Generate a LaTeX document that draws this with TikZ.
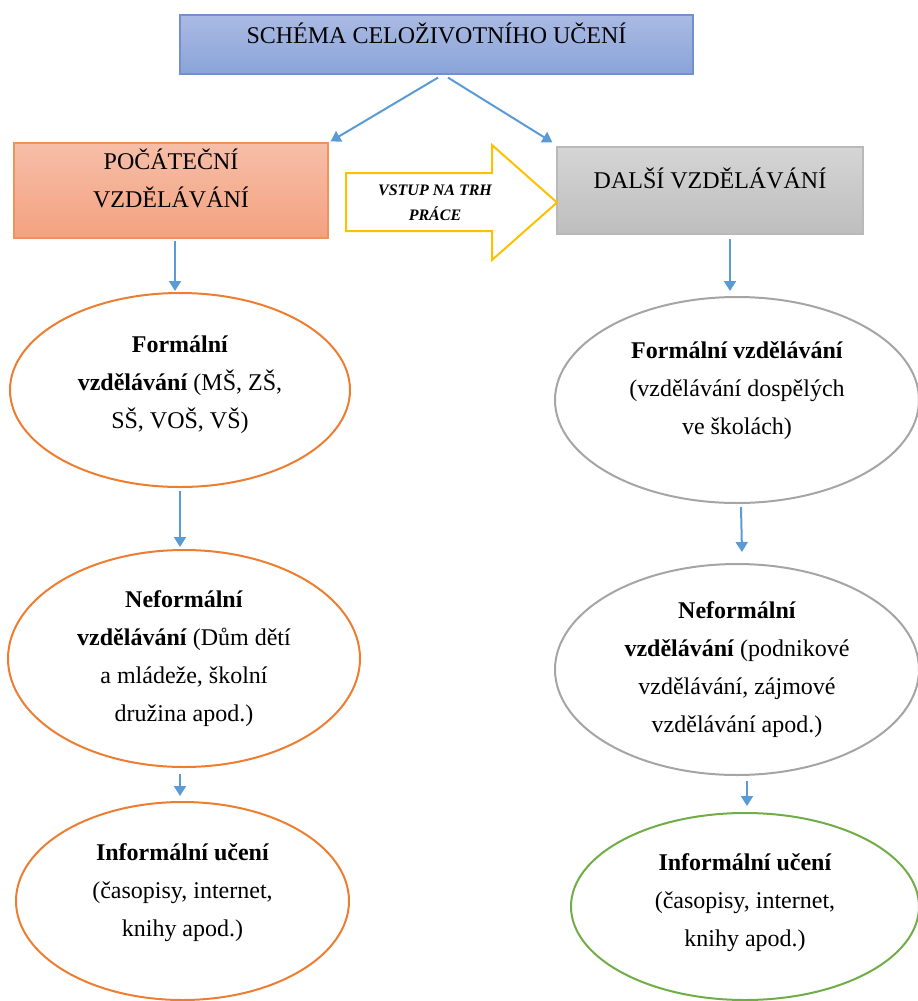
\documentclass[tikz,border=0pt]{standalone}
\usepackage{fontspec}
\setmainfont{Liberation Serif}
\usetikzlibrary{arrows.meta,shapes.geometric}
\definecolor{flowblue}{HTML}{5B9BD5}
\definecolor{ovorange}{HTML}{ED7D31}
\definecolor{ovgray}{HTML}{A5A5A5}
\definecolor{ovgreen}{HTML}{70AD47}
\definecolor{entryyellow}{HTML}{FFC000}
\definecolor{titletop}{RGB}{170,186,227}
\definecolor{titlebot}{RGB}{138,164,216}
\definecolor{titleline}{RGB}{114,144,208}
\definecolor{inittop}{RGB}{246,190,168}
\definecolor{initbot}{RGB}{244,162,128}
\definecolor{initline}{RGB}{240,146,92}
\definecolor{furttop}{RGB}{213,213,213}
\definecolor{furtbot}{RGB}{190,190,190}
\definecolor{furtline}{RGB}{185,185,185}
% strut that deepens the last line of a node
\newcommand{\dn}[1]{\rule[-#1]{0pt}{#1}}

\begin{document}
\begin{tikzpicture}[x=1pt,y=-1pt,
  every node/.style={font=\fontsize{24}{38}\selectfont},
  flow/.style={-{Triangle[length=10pt,width=12pt]},line width=2pt,flowblue},
  oval/.style={draw,ellipse,line width=2pt,inner sep=0pt,align=center}]
  \useasboundingbox (0,0) rectangle (918,1001);
  % top and the two branches
  \node[draw=titleline,line width=1.2pt,top color=titletop,bottom color=titlebot,minimum width=513pt,minimum height=59pt,inner ysep=0pt,text height=28pt,text depth=31pt] (title) at (436.5,44.5) {SCHÉMA CELOŽIVOTNÍHO UČENÍ};
  \node[draw=initline,line width=1.2pt,top color=inittop,bottom color=initbot,minimum width=314pt,minimum height=95pt,inner sep=0pt,align=center] (init) at (171,190.5) {POČÁTEČNÍ\\VZDĚLÁVÁNÍ\dn{25pt}};
  \node[draw=furtline,line width=1.2pt,top color=furttop,bottom color=furtbot,minimum width=306pt,minimum height=87pt,inner ysep=0pt,text height=41pt,text depth=46pt] (furt) at (710,190.5) {DALŠÍ VZDĚLÁVÁNÍ};
  \draw[entryyellow,line width=2pt,line join=miter] (346,173) -- (492,173) -- (492,145) -- (557,202.5) -- (492,260) -- (492,231) -- (346,231) -- cycle;
  \node[font=\fontsize{16}{25}\selectfont\bfseries\itshape,align=center] (entry) at (435,202.5) {VSTUP NA TRH\\PRÁCE};
  % left column
  \node[oval,draw=ovorange,minimum width=340pt,minimum height=194pt] (lform) at (180,390) {\textbf{Formální}\\\textbf{vzdělávání} (MŠ, ZŠ,\\SŠ, VOŠ, VŠ)\dn{16pt}};
  \node[oval,draw=ovorange,minimum width=352pt,minimum height=217pt] (lnonf) at (184,658.5) {\textbf{Neformální}\\\textbf{vzdělávání} (Dům dětí\\a mládeže, školní\\družina apod.)};
  \node[oval,draw=ovorange,minimum width=333pt,minimum height=198pt] (linf) at (182.5,901) {\textbf{Informální učení}\\(časopisy, internet,\\knihy apod.)\dn{22pt}};
  % right column
  \node[oval,draw=ovgray,minimum width=364pt,minimum height=206pt] (rform) at (737,400) {\textbf{Formální vzdělávání}\\(vzdělávání dospělých\\ve školách)\dn{23pt}};
  \node[oval,draw=ovgray,minimum width=364pt,minimum height=211pt] (rnonf) at (737,669.5) {\textbf{Neformální}\\\textbf{vzdělávání} (podnikové\\vzdělávání, zájmové\\vzdělávání apod.)};
  \node[oval,draw=ovgreen,minimum width=348pt,minimum height=187pt] (rinf) at (745,906.5) {\textbf{Informální učení}\\(časopisy, internet,\\knihy apod.)\dn{12pt}};
  % connectors
  \draw[flow] ([xshift=1.5pt,yshift=-3pt]title.south) -- ([xshift=2pt,yshift=1pt]init.north east);
  \draw[flow] ([xshift=11.5pt,yshift=-3pt]title.south) -- ([xshift=-4pt,yshift=4pt]furt.north west);
  \draw[flow] ([xshift=4pt,yshift=-2pt]init.south) -- ([xshift=-5pt,yshift=1pt]lform.north);
  \draw[flow] ([yshift=-3pt]lform.south) -- ([xshift=-4pt,yshift=2pt]lnonf.north);
  \draw[flow] ([xshift=-4pt,yshift=-6pt]lnonf.south) -- ([xshift=-2.5pt,yshift=5pt]linf.north);
  \draw[flow] ([xshift=20pt,yshift=-4pt]furt.south) -- ([xshift=-7pt,yshift=5pt]rform.north);
  \draw[flow] ([xshift=4pt,yshift=-3pt]rform.south) -- ([xshift=5pt,yshift=11pt]rnonf.north);
  \draw[flow] ([xshift=10pt,yshift=-5pt]rnonf.south) -- ([xshift=2pt,yshift=6pt]rinf.north);
\end{tikzpicture}
\end{document}
